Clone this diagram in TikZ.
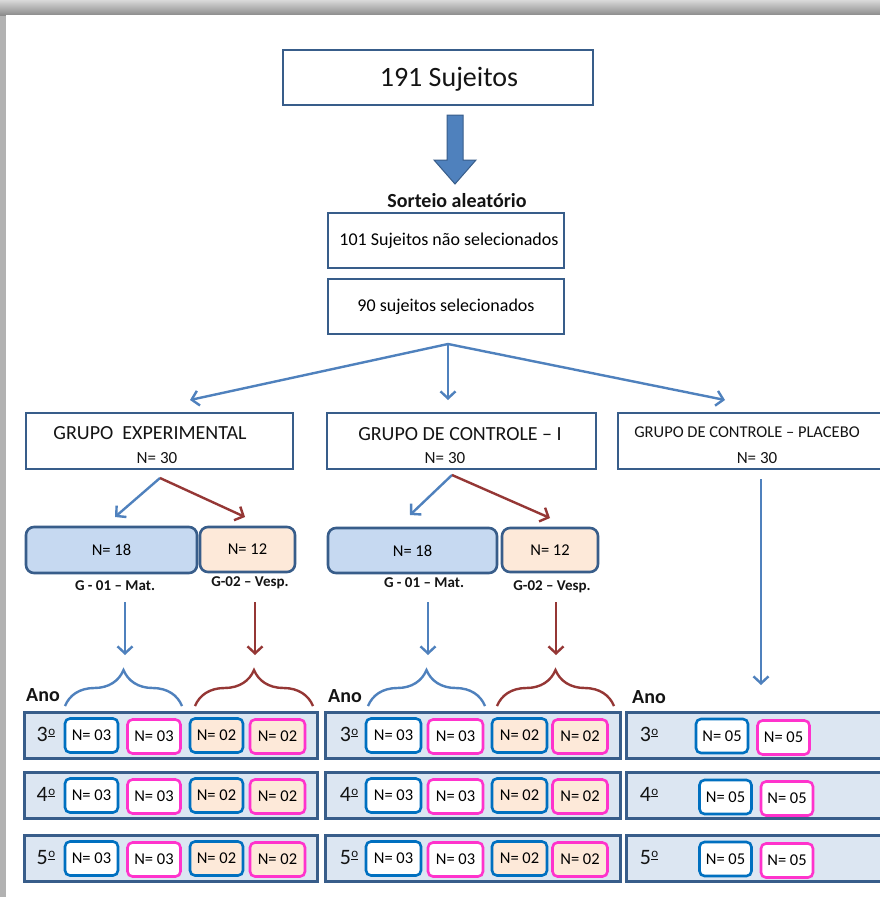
\documentclass[tikz,border=0pt]{standalone}
\usepackage{fontspec}
\setmainfont{Carlito}
\usetikzlibrary{arrows.meta,decorations.pathreplacing}
\definecolor{boxb}{HTML}{385D8A}
\definecolor{arrb}{HTML}{4F81BD}
\definecolor{arrr}{HTML}{953735}
\definecolor{fillb}{HTML}{C6D9F1}
\definecolor{fillp}{HTML}{FDE9D9}
\definecolor{rowf}{HTML}{DCE6F2}
\definecolor{ib}{HTML}{0070C0}
\definecolor{im}{HTML}{FF33CC}
\newcommand\fsz[1]{\fontsize{#1}{#1}\selectfont}
\newcommand\ordm{\hspace{0.5pt}\raisebox{6.5pt}{\fsz{13}\underline{o}}}
\tikzset{
  bx/.style={draw=boxb, line width=2.6, fill=white, inner sep=0, rectangle},
  sub/.style={draw=boxb, line width=2.6, rounded corners=8, inner sep=0, rectangle},
  rowbox/.style={draw=boxb, line width=3, fill=rowf, inner sep=0, rectangle},
  nbox/.style={line width=2.6, rounded corners=5, minimum width=53, minimum height=34, inner sep=0, font=\fsz{16.5}},
  nbl/.style={nbox, draw=ib},
  nmg/.style={nbox, draw=im},
  txt/.style={inner sep=0, text=black!92},
  lab/.style={txt, font=\fsz{15}\bfseries},
  yr/.style={txt, font=\fsz{22}},
  ano/.style={txt, font=\fsz{20}\bfseries},
  ab/.style={draw=arrb, line width=2.4, -{Straight Barb[length=7pt,width=15pt,line width=2.4pt]}},
  ar/.style={draw=arrr, line width=2.4, -{Straight Barb[length=7pt,width=15pt,line width=2.4pt]}},
  brb/.style={draw=arrb, line width=2.4, decorate, decoration={brace, amplitude=36pt}},
  brr/.style={draw=arrr, line width=2.4, decorate, decoration={brace, amplitude=36pt}},
}
\begin{document}
\begin{tikzpicture}[x=1pt,y=-1pt]
\useasboundingbox (0,0) rectangle (880,897);
% frame shadow
\fill[black!30] (0,0) rectangle (880,897);
\shade[top color=black!15, bottom color=black!45] (0,0) rectangle (880,15);
\fill[white] (6,15) rectangle (880,897);

% top
\node[bx, minimum width=310, minimum height=55] (top) at (438,77.5) {};
\node[txt, font=\fsz{28}] (t191) at (449,79) {191 Sujeitos};
\fill[arrb, draw=boxb, line width=1] (447,115) -- (463,115) -- (463,160) -- (476,160) -- (455,184) -- (434,160) -- (447,160) -- cycle;
\node[txt, font=\fsz{20}\bfseries] (sort) at (457,201) {Sorteio aleatório};
\node[bx, minimum width=236, minimum height=55, font=\fsz{18}] (b101) at (446,240.5) {\hspace{6pt}101 Sujeitos não selecionados};
\node[bx, minimum width=236, minimum height=55, font=\fsz{18}] (b90) at (446,306.5) {90 sujeitos selecionados};

% groups
\node[bx, minimum width=267, minimum height=56] (gexp) at (159.5,441) {};
\node[txt, font=\fsz{20}] (gexpt) at (150,433) {GRUPO~~EXPERIMENTAL};
\node[txt, font=\fsz{17}] (gexpn) at (157,458) {N= 30};
\node[bx, minimum width=269, minimum height=56] (gc1) at (461.5,441) {};
\node[txt, font=\fsz{20}] (gc1t) at (460,434) {GRUPO DE CONTROLE – I};
\node[txt, font=\fsz{17}] (gc1n) at (445,458) {N= 30};
\node[bx, minimum width=266, minimum height=56] (gpl) at (751,441) {};
\node[txt, font=\fsz{16.5}] (gplt) at (747,432) {GRUPO DE CONTROLE – PLACEBO};
\node[txt, font=\fsz{17}] (gpln) at (757,458) {N= 30};

\coordinate (apex) at (448,344);
\draw[ab] (apex) -- (190,400);
\draw[ab] (apex) -- (448,400);
\draw[ab] (apex) -- (725,400);

% left subgroups
\coordinate (ae) at (160,478);
\draw[ab] (ae) -- (115,517);
\draw[ar] (ae) -- (245,517);
\node[sub, fill=fillb, minimum width=171, minimum height=46, font=\fsz{16.5}] (n18a) at (111.5,550) {N= 18};
\node[sub, fill=fillp, minimum width=95, minimum height=45, font=\fsz{16.5}] (n12a) at (247.5,549.5) {N= 12};
\node[lab] (g1a) at (115,586) {G - 01 – Mat.};
\node[lab] (g2a) at (250,583) {G-02 – Vesp.};
\draw[ab] (125,602) -- (125,655);
\draw[ar] (255,602) -- (255,655);
\draw[brb] (65,706) -- (182,706);
\draw[brr] (195,706) -- (313,706);

% middle subgroups
\coordinate (ac) at (452,475);
\draw[ab] (ac) -- (410,515);
\draw[ar] (ac) -- (550,518);
\node[sub, fill=fillb, minimum width=169, minimum height=45, font=\fsz{16.5}] (n18b) at (412.5,550.5) {N= 18};
\node[sub, fill=fillp, minimum width=96, minimum height=44, font=\fsz{16.5}] (n12b) at (550,550) {N= 12};
\node[lab] (g1b) at (424,583) {G - 01 – Mat.};
\node[lab] (g2b) at (552,587) {G-02 – Vesp.};
\draw[ab] (428,602) -- (428,655);
\draw[ar] (556,602) -- (556,655);
\draw[brb] (368,706) -- (485,706);
\draw[brr] (497,706) -- (614,706);

% right arrow
\draw[ab] (761,479) -- (761,685);

% Ano
\node[ano] (ano1) at (43,695) {Ano};
\node[ano] (ano2) at (345,696) {Ano};
\node[ano] (ano3) at (649,697) {Ano};

% rows
\foreach \r/\yy/\lb in {1/735.5/3,2/795.5/4,3/858.5/5}{
  \node[rowbox, minimum width=293, minimum height=46] (ra\r) at (170.5,\yy) {};
  \node[rowbox, minimum width=295, minimum height=46] (rb\r) at (472.5,\yy) {};
  \node[rowbox, minimum width=258, minimum height=46] (rc\r) at (755,\yy) {};
  \node[yr] (ya\r) at (46,\yy-1) {\lb\ordm};
  \node[yr] (yb\r) at (349,\yy-1) {\lb\ordm};
  \node[yr] (yc\r) at (649,\yy-1) {\lb\ordm};
  \node[nbl, fill=white] (a1\r) at (91.5,\yy) {N= 03};
  \node[nmg, fill=white] (a2\r) at (154,\yy+1) {N= 03};
  \node[nbl, fill=fillp] (a3\r) at (216.5,\yy) {N= 02};
  \node[nmg, fill=fillp, minimum width=55] (a4\r) at (277.5,\yy+1) {N= 02};
  \node[nbl, fill=white, minimum width=55] (b1\r) at (393.5,\yy) {N= 03};
  \node[nmg, fill=white, minimum width=55] (b2\r) at (455.5,\yy+1) {N= 03};
  \node[nbl, fill=fillp, minimum width=55] (b3\r) at (519.5,\yy) {N= 02};
  \node[nmg, fill=fillp, minimum width=55] (b4\r) at (580,\yy+1) {N= 02};
}
\node[nbl, fill=white, minimum width=52] (c11) at (722,736) {N= 05};
\node[nmg, fill=white, minimum width=52] (c21) at (783.5,737.5) {N= 05};
\node[nbl, fill=white, minimum width=52] (c12) at (725.5,797) {N= 05};
\node[nmg, fill=white, minimum width=52] (c22) at (787,798.5) {N= 05};
\node[nbl, fill=white, minimum width=52] (c13) at (725.5,859) {N= 05};
\node[nmg, fill=white, minimum width=52] (c23) at (787,860.5) {N= 05};
\end{tikzpicture}
\end{document}
